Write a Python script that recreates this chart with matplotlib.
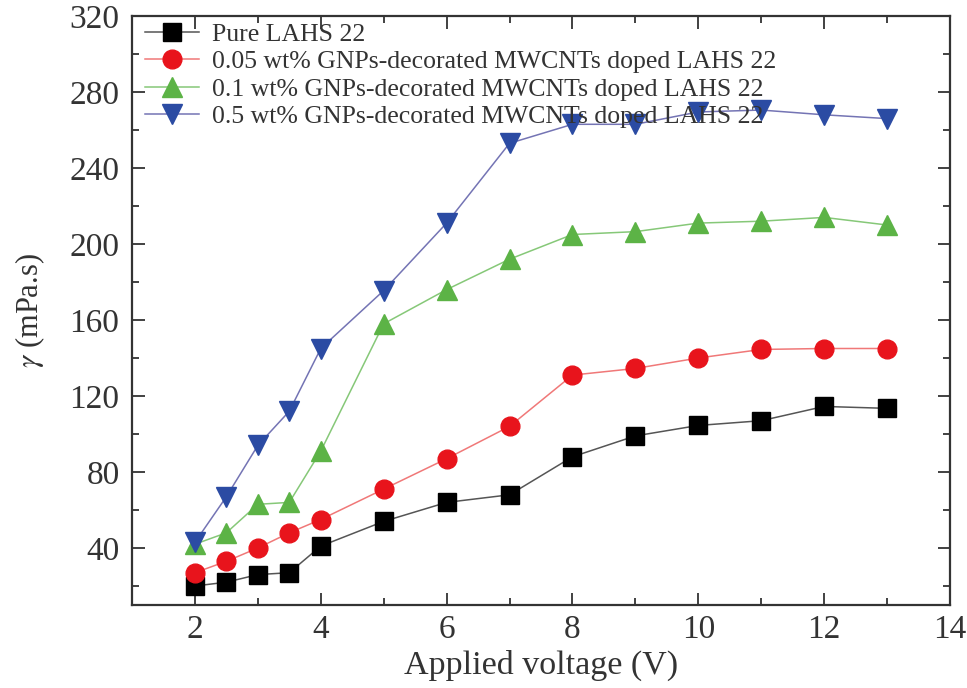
import matplotlib
matplotlib.use("Agg")
import matplotlib.pyplot as plt
from matplotlib.ticker import MultipleLocator

voltage = [2, 2.5, 3, 3.5, 4, 5, 6, 7, 8, 9, 10, 11, 12, 13]
pure = [20, 22, 26, 27, 41, 54, 64, 68, 88, 99, 104.5, 107, 114.5, 113.5]
wt005 = [27, 33, 40, 48, 55, 71, 87, 104, 131, 134.5, 140, 144.5, 145, 145]
wt01 = [42, 48, 63, 64, 91, 158, 176, 192, 205, 206.5, 211, 212, 214, 210]
wt05 = [43, 67, 94, 112, 145, 175.5, 211, 253, 263, 263, 269.5, 270.5, 268, 266]

labels = ["Pure LAHS 22",
          "0.05 wt% GNPs-decorated MWCNTs doped LAHS 22",
          "0.1 wt% GNPs-decorated MWCNTs doped LAHS 22",
          "0.5 wt% GNPs-decorated MWCNTs doped LAHS 22"]

plt.rcParams['font.family'] = ['Liberation Serif', 'DejaVu Serif']
plt.rcParams['mathtext.fontset'] = 'stix'

fig = plt.figure(figsize=(9.67, 6.88), dpi=100)
ax = fig.add_axes([132/967, 1-605/688, 818/967, 589/688])

styles = [
    (pure, 's', '#000000', '#555555', 12.5),
    (wt005, 'o', '#e8141c', '#f07878', 13.5),
    (wt01, '^', '#5cb346', '#86c878', 14),
    (wt05, 'v', '#2b4ba3', '#7474b4', 14),
]
for (vals, m, mc, lc, ms), lab in zip(styles, labels):
    ax.plot(voltage, vals, color=lc, lw=1.1, marker=m, ms=ms,
            markerfacecolor=mc, markeredgecolor=mc, label=lab)

ax.set_xlim(1, 14)
ax.set_ylim(10, 320)
ax.xaxis.set_major_locator(MultipleLocator(2))
ax.xaxis.set_minor_locator(MultipleLocator(1))
ax.yaxis.set_major_locator(MultipleLocator(40))
ax.yaxis.set_minor_locator(MultipleLocator(20))
ax.tick_params(which='both', direction='in', top=True, right=True,
               color='#333333', width=1.3)
ax.tick_params(which='major', length=9, labelsize=24, labelcolor='#333333')
ax.tick_params(which='minor', length=5)
ax.tick_params(axis='x', which='major', pad=7)
ax.tick_params(axis='y', which='major', pad=9)
for s in ax.spines.values():
    s.set_linewidth(1.6)
    s.set_color('#333333')

ax.set_xlabel("Applied voltage (V)", fontsize=24.5, color='#333333')
ax.set_ylabel(r"$\gamma$ (mPa.s)", fontsize=22, color='#333333')
ax.xaxis.set_label_coords(0.5, -0.102)
ax.xaxis.label.set_va('center')
ax.yaxis.set_label_coords(-0.125, 0.5)
ax.yaxis.label.set_va('center')

leg = ax.legend(loc='upper left', bbox_to_anchor=(0.016, 0.988), frameon=False,
                fontsize=18.5, labelspacing=0.17, handlelength=2.1,
                handletextpad=0.5, borderpad=0, borderaxespad=0)
for t in leg.get_texts():
    t.set_color('#333333')

fig.savefig("out.png", dpi=100)
